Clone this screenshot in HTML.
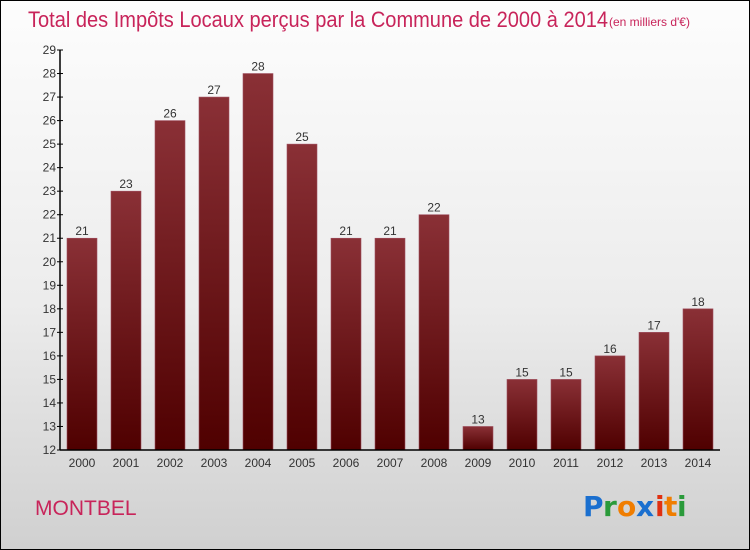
<!DOCTYPE html>
<html><head><meta charset="utf-8"><style>
body{margin:0;width:750px;height:550px;overflow:hidden;font-family:"Liberation Sans",sans-serif}
#frame{position:absolute;left:0;top:0;width:748px;height:548px;border:1px solid #000;background:linear-gradient(#fdfdfd,#ececec 55%,#d0d0d0)}
</style></head><body>
<div id="frame"></div>
<svg id="c" width="750" height="550" style="position:absolute;left:0;top:0">
<defs><linearGradient id="bg" x1="0" y1="0" x2="0" y2="1"><stop offset="0" stop-color="#8a3036"/><stop offset="1" stop-color="#4f0000"/></linearGradient></defs>
<text x="28" y="27" font-size="22" fill="#c8245a" textLength="580" lengthAdjust="spacingAndGlyphs">Total des Impôts Locaux perçus par la Commune de 2000 à 2014</text>
<text x="609" y="26" font-size="12" fill="#c8245a">(en milliers d'€)</text>
<text x="35" y="515" font-size="21" fill="#c8245a">MONTBEL</text>
<g font-size="28" font-weight="bold" font-family="'DejaVu Sans',sans-serif">
<text x="583" y="516" fill="#1a6fcf">P</text><text x="603" y="516" fill="#2a9a3a">r</text><text x="617" y="516" fill="#f07d00">o</text><text x="636" y="516" fill="#1a6fcf">x</text><text x="655" y="516" fill="#e03010">i</text><text x="664" y="516" fill="#f07d00">t</text><text x="677" y="516" fill="#2a9a3a">i</text>
</g>
<g id="plot"></g>
</svg>
<script>
const years=["2000","2001","2002","2003","2004","2005","2006","2007","2008","2009","2010","2011","2012","2013","2014"];
const values=[21,23,26,27,28,25,21,21,22,13,15,15,16,17,18];
const yTicks=[12,13,14,15,16,17,18,19,20,21,22,23,24,25,26,27,28,29];
const NS="http://www.w3.org/2000/svg";
const g=document.getElementById('plot');
const yMin=12,yMax=29,y0=450,y1=50;
const yS=v=>y0-(v-yMin)*(y0-y1)/(yMax-yMin);
const xS=i=>82+i*44;
function mk(t,a){const e=document.createElementNS(NS,t);for(const k in a)e.setAttribute(k,a[k]);g.appendChild(e);return e;}
values.forEach((v,i)=>{
 const r=mk('rect',{x:xS(i)-15,y:yS(v),width:30,height:y0-yS(v),fill:'url(#bg)',stroke:'#a05060','stroke-width':0.6});
 
 
 const t=mk('text',{x:xS(i),y:yS(v)-3,'text-anchor':'middle','font-size':12,fill:'#333'});
 t.textContent=v;
 
 
 const xl=mk('text',{x:xS(i),y:467,'text-anchor':'middle','font-size':12,fill:'#333'});
 xl.textContent=years[i];
 
 
});
yTicks.forEach(v=>{
 const y=yS(v);
 const tk=mk('line',{x1:57,x2:63,y1:y,y2:y,stroke:'#000'});
 
 
 const t=mk('text',{x:56,y:y+4,'text-anchor':'end','font-size':12,fill:'#333'});
 t.textContent=v;
 
 
});
const ya=mk('line',{x1:60,x2:60,y1:y1,y2:y0,stroke:'#000','stroke-width':1.5});


const xa=mk('line',{x1:60,x2:720,y1:y0,y2:y0,stroke:'#000','stroke-width':1.5});


</script>
</body></html>
